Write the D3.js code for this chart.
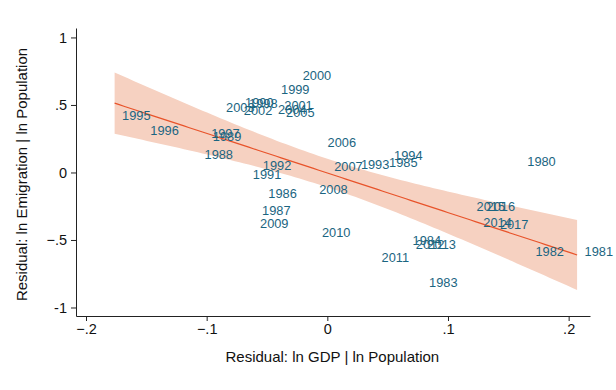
<!DOCTYPE html>
<html>
<head>
<meta charset="utf-8">
<script src="https://cdn.jsdelivr.net/npm/d3@7/dist/d3.min.js"></script>
<style>
  body { margin: 0; background: #fff; }
  svg text { font-family: "Liberation Sans", Arial, Helvetica, sans-serif; }
</style>
</head>
<body>
<div id="chart"></div>
<script>
// Year labels and residuals
const years = [
  1980, 1981, 1982, 1983, 1984, 1985, 1986, 1987, 1988, 1989,
  1990, 1991, 1992, 1993, 1994, 1995, 1996, 1997, 1998, 1999,
  2000, 2001, 2002, 2003, 2004, 2005, 2006, 2007, 2008, 2009,
  2010, 2011, 2012, 2013, 2014, 2015, 2016, 2017
];
const residGDP = [
  0.1595, 0.207, 0.1663, 0.0781, 0.0644, 0.045, -0.0551, -0.0603, -0.108, -0.1011,
  -0.0744, -0.068, -0.0597, 0.0216, 0.0491, -0.1763, -0.1529, -0.1025, -0.0711, -0.0446,
  -0.0266, -0.0419, -0.0754, -0.0901, -0.0471, -0.0404, -0.006, -0.0005, -0.0129, -0.062,
  -0.0107, 0.0387, 0.0671, 0.0768, 0.1231, 0.1175, 0.1258, 0.1368
];
const residEmig = [
  0.08, -0.587, -0.587, -0.816, -0.507, 0.073, -0.154, -0.285, 0.13, 0.265,
  0.515, -0.013, 0.048, 0.061, 0.124, 0.419, 0.31, 0.29, 0.511, 0.611,
  0.715, 0.496, 0.456, 0.481, 0.467, 0.446, 0.221, 0.043, -0.124, -0.381,
  -0.448, -0.631, -0.537, -0.537, -0.372, -0.253, -0.253, -0.389
];
const xTicks = [-0.2, -0.1, 0, 0.1, 0.2];
const yTicks = [-1, -0.5, 0, 0.5, 1];

const data = years.map((yr, i) => ({ year: yr, x: residGDP[i], y: residEmig[i] }));

// Set the dimensions and margins of the graph
const W = 616, H = 390;
const margin = { top: 28, right: 26, bottom: 74, left: 76 };
const width = W - margin.left - margin.right,
  height = H - margin.top - margin.bottom;

const svg = d3.select("#chart").append("svg")
  .attr("width", W).attr("height", H)
  .append("g")
  .attr("transform", "translate(" + margin.left + "," + margin.top + ")");

const x = d3.scaleLinear().domain([-0.2083, 0.2177]).range([0, width]);
const y = d3.scaleLinear().domain([-1.063, 1.07]).range([height, 0]);

// Linear fit with 95% CI of the prediction (like lfitci)
const n = data.length;
const xbar = d3.mean(data, d => d.x), ybar = d3.mean(data, d => d.y);
const sxx = d3.sum(data, d => (d.x - xbar) ** 2);
const sxy = d3.sum(data, d => (d.x - xbar) * (d.y - ybar));
const b = sxy / sxx, a = ybar - b * xbar;
const s2 = d3.sum(data, d => (d.y - a - b * d.x) ** 2) / (n - 2);
const tCrit = 2.028; // t(0.975, 36 df)
const [xmin, xmax] = d3.extent(data, d => d.x);
const fit = d3.range(0, 101).map(i => {
  const xv = xmin + (xmax - xmin) * i / 100;
  const yv = a + b * xv;
  const se = Math.sqrt(s2 * (1 / n + (xv - xbar) ** 2 / sxx));
  return { x: xv, y: yv, lo: yv - tCrit * se, hi: yv + tCrit * se };
});

svg.append("path")
  .datum(fit)
  .attr("fill", "#f6d1c1")
  .attr("d", d3.area().x(d => x(d.x)).y0(d => y(d.lo)).y1(d => y(d.hi)));

svg.append("path")
  .datum(fit)
  .attr("fill", "none")
  .attr("stroke", "#e8532a")
  .attr("stroke-width", 1.2)
  .attr("d", d3.line().x(d => x(d.x)).y(d => y(d.y)));

// Year labels sit to the right of each (invisible) point
svg.append("g")
  .selectAll("text")
  .data(data)
  .enter()
  .append("text")
  .attr("x", d => x(d.x) + 7.5)
  .attr("y", d => y(d.y))
  .attr("dy", "0.35em")
  .attr("font-size", 12.8)
  .attr("fill", "#1b6581")
  .text(d => d.year);

// Axes
const fmt = v => v === 0 ? "0" : d3.format(".1f")(v).replace("0.", ".");
const yFmt = v => (v === 0 ? "0" : Math.abs(v) === 1 ? String(v) : d3.format(".1f")(v).replace("0.", "."));

const xAxis = svg.append("g")
  .attr("transform", "translate(0," + height + ")")
  .call(d3.axisBottom(x).tickValues(xTicks).tickFormat(fmt).tickSize(5).tickSizeOuter(0).tickPadding(3));

const yAxis = svg.append("g")
  .call(d3.axisLeft(y).tickValues(yTicks).tickFormat(yFmt).tickSize(5).tickSizeOuter(0).tickPadding(4));

[xAxis, yAxis].forEach(g => {
  g.select(".domain").attr("stroke", "#222");
  g.selectAll(".tick line").attr("stroke", "#222");
  g.selectAll(".tick text").attr("font-size", 14.5).attr("fill", "#111")
    .attr("font-family", "'Liberation Sans', Arial, sans-serif");
});

// Axis titles
svg.append("text")
  .attr("x", x(0) + 5)
  .attr("y", height + 46)
  .attr("text-anchor", "middle")
  .attr("font-size", 15)
  .attr("fill", "#111")
  .text("Residual: ln GDP | ln Population");

svg.append("text")
  .attr("transform", "rotate(-90)")
  .attr("x", -(y(0) + 2))
  .attr("y", -margin.left + 27)
  .attr("text-anchor", "middle")
  .attr("font-size", 15)
  .attr("fill", "#111")
  .text("Residual: ln Emigration | ln Population");
</script>
</body>
</html>
